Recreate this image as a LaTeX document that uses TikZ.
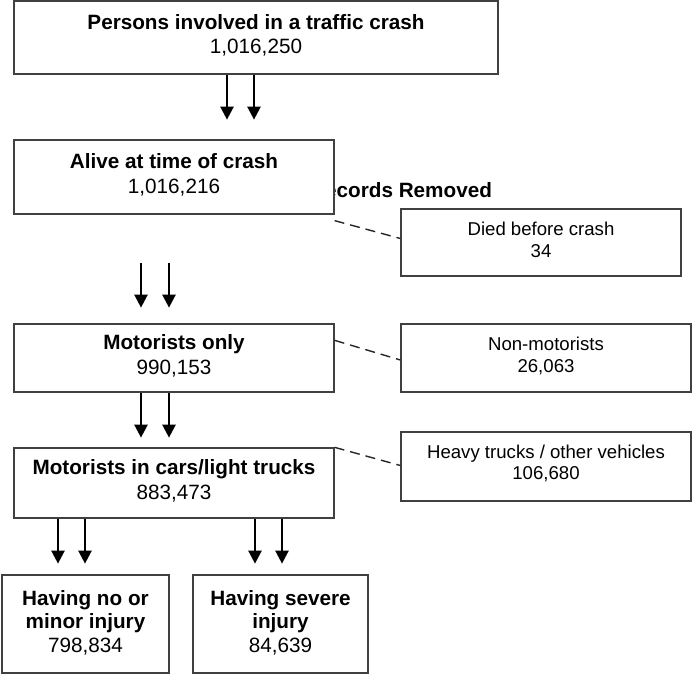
\documentclass[tikz,border=0pt]{standalone}
\usepackage{fontspec}
\setmainfont{Liberation Sans}
\usetikzlibrary{calc,arrows.meta}
\newcommand{\lowpad}[1]{\rule[-#1pt]{0pt}{#1pt}}
\tikzset{
  boxline/.style={draw=black!75, line width=1.3pt, fill=white, inner sep=0pt, align=center},
  mainbox/.style={boxline, font=\fontsize{20.7}{24.5}\selectfont},
  sidebox/.style={boxline, font=\fontsize{18.6}{21.5}\selectfont},
  lowbox/.style={boxline, font=\fontsize{20.7}{23.5}\selectfont},
  flowarrow/.style={line width=2.4pt, -{Triangle[width=13pt,length=13pt]}},
  linkdash/.style={line width=1.4pt, dash pattern=on 10pt off 6pt, black!85}
}
\begin{document}
\begin{tikzpicture}[x=1pt,y=-1pt]
\useasboundingbox (0,0) rectangle (692,674);
\node[font=\fontsize{20.7}{23.5}\selectfont\bfseries, anchor=base west, inner sep=0pt] (rr) at (310,197) {Records Removed};

\node[mainbox, minimum width=484, minimum height=73] (b1) at (256,37.5)
  {\textbf{Persons involved in a traffic crash}\\1,016,250\lowpad{7}};
\node[mainbox, minimum width=320, minimum height=74] (b2) at (174,177)
  {\textbf{Alive at time of crash}\\1,016,216\lowpad{7}};
\node[mainbox, minimum width=320, minimum height=68] (b3) at (174,358)
  {\textbf{Motorists only}\\990,153\lowpad{7}};
\node[mainbox, minimum width=320, minimum height=70] (b4) at (174,483)
  {\textbf{Motorists in cars/light trucks}\\883,473\lowpad{7}};

\node[sidebox, minimum width=280, minimum height=67] (died) at (541,242.5)
  {Died before crash\\34\lowpad{5}};
\node[sidebox, minimum width=290, minimum height=68] (nonm) at (546,358)
  {Non-motorists\\26,063\lowpad{6}};
\node[sidebox, minimum width=290, minimum height=69] (heavy) at (546,466.5)
  {Heavy trucks / other vehicles\\106,680\lowpad{8}};

\node[lowbox, minimum width=167, minimum height=98] (low) at (85.5,624)
  {\textbf{Having no or}\\\textbf{minor injury}\\798,834\lowpad{6}};
\node[lowbox, minimum width=175, minimum height=98] (sev) at (280.5,624)
  {\textbf{Having severe}\\\textbf{injury}\\84,639\lowpad{6}};

% arrows
\draw[flowarrow] ($(b1.south)+(-29,0)$) -- ++(0,45);
\draw[flowarrow] ($(b1.south)+(-2,0)$) -- ++(0,45);
\draw[flowarrow] ($(b2.south)+(-33,48)$) -- ++(0,45);
\draw[flowarrow] ($(b2.south)+(-5,48)$) -- ++(0,45);
\draw[flowarrow] ($(b3.south)+(-33,0)$) -- ++(0,45);
\draw[flowarrow] ($(b3.south)+(-5,0)$) -- ++(0,45);
\draw[flowarrow] ($(b4.south)+(-116,0)$) -- ++(0,45);
\draw[flowarrow] ($(b4.south)+(-89,0)$) -- ++(0,45);
\draw[flowarrow] ($(b4.south)+(81,0)$) -- ++(0,45);
\draw[flowarrow] ($(b4.south)+(108,0)$) -- ++(0,45);

% dashed links
\draw[linkdash] ($(b2.south east)+(0,6)$) -- ($(died.west)+(0,-4)$);
\draw[linkdash] ($(b3.north east)+(0,17)$) -- ($(nonm.west)+(0,2)$);
\draw[linkdash] (b4.north east) -- ($(heavy.west)+(0,-1)$);
\end{tikzpicture}
\end{document}
